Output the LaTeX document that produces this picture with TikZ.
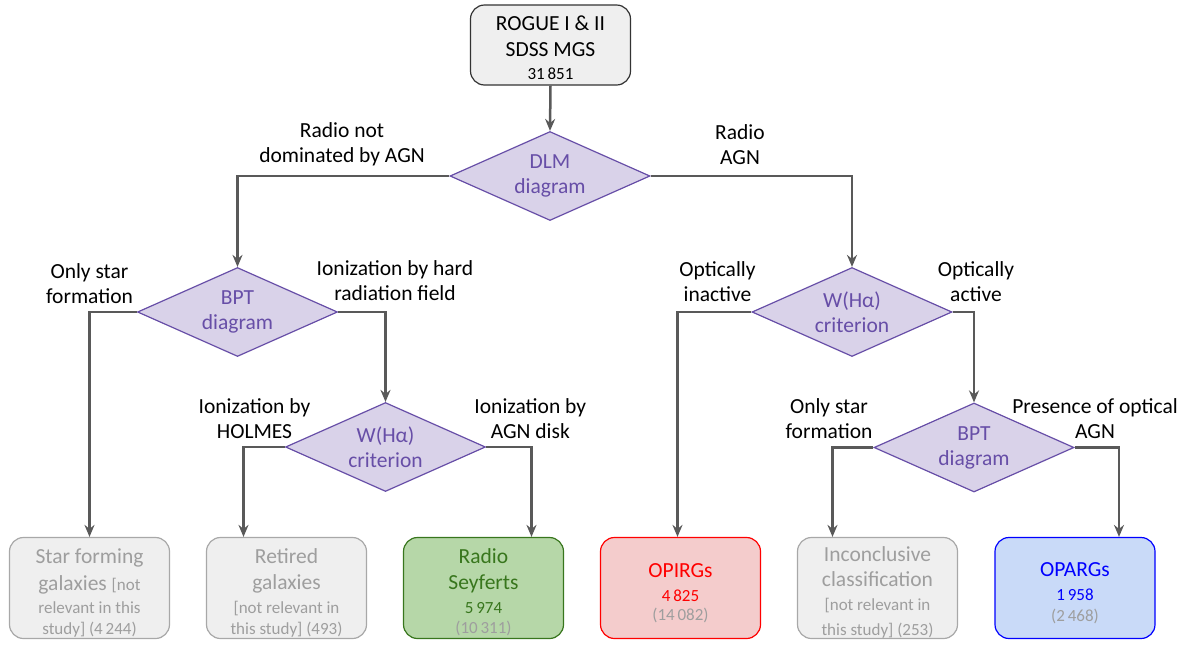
\documentclass[tikz,border=0pt]{standalone}
\usepackage{fontspec}
\setmainfont{Carlito}
\usetikzlibrary{shapes.geometric,arrows.meta}

\definecolor{linegray}{HTML}{595959}
\definecolor{boxgray}{HTML}{EFEFEF}
\definecolor{boxgrayline}{HTML}{A8A8A8}
\definecolor{txtgray}{HTML}{9E9E9E}
\definecolor{lilac}{HTML}{D9D2E9}
\definecolor{purp}{HTML}{674EA7}
\definecolor{gfill}{HTML}{B6D7A8}
\definecolor{gline}{HTML}{38761D}
\definecolor{rfill}{HTML}{F4CCCC}
\definecolor{rline}{HTML}{FF0000}
\definecolor{bfill}{HTML}{C9DAF8}
\definecolor{bline}{HTML}{0000FF}

\newcommand\fsBig{\fontsize{21.5}{25}\selectfont}
\newcommand\fsSmall{\fontsize{17}{21}\selectfont}
\newcommand\fsNum{\fontsize{17}{20}\selectfont}
% invisible strut that pushes a text block down inside its box
\newcommand\pushdown[1]{\rule{0pt}{#1}}

\tikzset{
  x=1pt, y=-1pt,
  box/.style={draw, rounded corners=14pt, minimum width=160pt, minimum height=101pt,
    line width=1.2pt, align=center, inner sep=0pt, font=\fsBig},
  graybox/.style={box, fill=boxgray, draw=boxgrayline, text=txtgray},
  decision/.style={diamond, aspect=2.25, draw=purp, fill=lilac, line width=1.2pt,
    minimum width=200pt, minimum height=89pt, inner sep=0pt,
    text=purp, align=center, font=\fsBig},
  flow/.style={draw=linegray, line width=2.5pt,
    -{Stealth[length=12pt,width=10pt,inset=4pt]}},
  lbl/.style={align=center, font=\fsBig, inner sep=0pt}
}

\begin{document}
\begin{tikzpicture}
\useasboundingbox (0,0) rectangle (1192,646);

% source sample
\node[box, fill=boxgray, draw=black!80, minimum height=80pt] (top) at (550.5,45)
  {\pushdown{20pt}ROGUE I \& II\\[1pt]SDSS MGS\\[-2.5pt]{\fsNum 31\,851}};

% decisions
\node[decision] (dlm)  at (550,176)   {DLM\\diagram};
\node[decision] (bptL) at (237.5,312) {BPT\\diagram};
\node[decision] (whaR) at (852,312)   {W(Hα)\\criterion};
\node[decision] (whaM) at (385.5,447) {W(Hα)\\criterion};
\node[decision] (bptR) at (974,447.5) {BPT\\diagram};

% outcomes
\node[graybox] (sfg) at (89.5,588)
  {\pushdown{24pt}Star forming\\[2pt]galaxies {\fsSmall[not}\\[-2pt]{\fsSmall relevant in this}\\[-4pt]{\fsSmall study] (4\,244)}};
\node[graybox] (ret) at (286.5,588)
  {\pushdown{24pt}Retired\\[1pt]galaxies\\[-1pt]{\fsSmall [not relevant in}\\[-4pt]{\fsSmall this study] (493)}};
\node[box, fill=gfill, draw=gline, text=gline] (sey) at (483.5,588)
  {\pushdown{24pt}Radio\\[1pt]Seyferts\\[-1pt]{\fsNum 5\,974}\\[-5pt]{\fsNum\color{txtgray}(10\,311)}};
\node[box, fill=rfill, draw=rline, text=rline] (opirg) at (680.5,588)
  {\pushdown{24pt}OPIRGs\\[-1pt]{\fsNum 4\,825}\\[-6pt]{\fsNum\color{txtgray}(14\,082)}};
\node[graybox] (inc) at (877.5,588)
  {\pushdown{24pt}Inconclusive\\classification\\[-1pt]{\fsSmall [not relevant in}\\[0pt]{\fsSmall this study] (253)}};
\node[box, fill=bfill, draw=bline, text=bline] (oparg) at (1075,588)
  {\pushdown{24pt}OPARGs\\[-1pt]{\fsNum 1\,958}\\[-4.5pt]{\fsNum\color{txtgray}(2\,468)}};

% branch labels
\node[lbl] (l1)  at (342,144)   {Radio not\\dominated by AGN};
\node[lbl] (l2)  at (740,145)   {Radio\\AGN};
\node[lbl] (l3)  at (89.5,284)  {Only star\\formation};
\node[lbl] (l4)  at (395,281)   {Ionization by hard\\radiation field};
\node[lbl] (l5)  at (717.5,282) {Optically\\inactive};
\node[lbl] (l6)  at (976,282)   {Optically\\active};
\node[lbl] (l7)  at (254.5,419) {Ionization by\\HOLMES};
\node[lbl] (l8)  at (530.3,419) {Ionization by\\AGN disk};
\node[lbl] (l9)  at (829,419)   {Only star\\formation};
\node[lbl] (l10) at (1095,419)  {Presence of optical\\AGN};

% connectors
\draw[flow] (top.south) -- (dlm.north);
\draw[flow] (dlm.west) -| (bptL.north);
\draw[flow] (dlm.east) -| (whaR.north);
\draw[flow] (bptL.west) -| (sfg.north);
\draw[flow] (bptL.east) -| (whaM.north);
\draw[flow] (whaM.west) -| ([xshift=-43pt]ret.north);
\draw[flow] (whaM.east) -| ([xshift=48pt]sey.north);
\draw[flow] (whaR.west) -| ([xshift=-3pt]opirg.north);
\draw[flow] (whaR.east) -| (bptR.north);
\draw[flow] (bptR.west) -| ([xshift=-45pt]inc.north);
\draw[flow] (bptR.east) -| ([xshift=44pt]oparg.north);
\end{tikzpicture}
\end{document}
